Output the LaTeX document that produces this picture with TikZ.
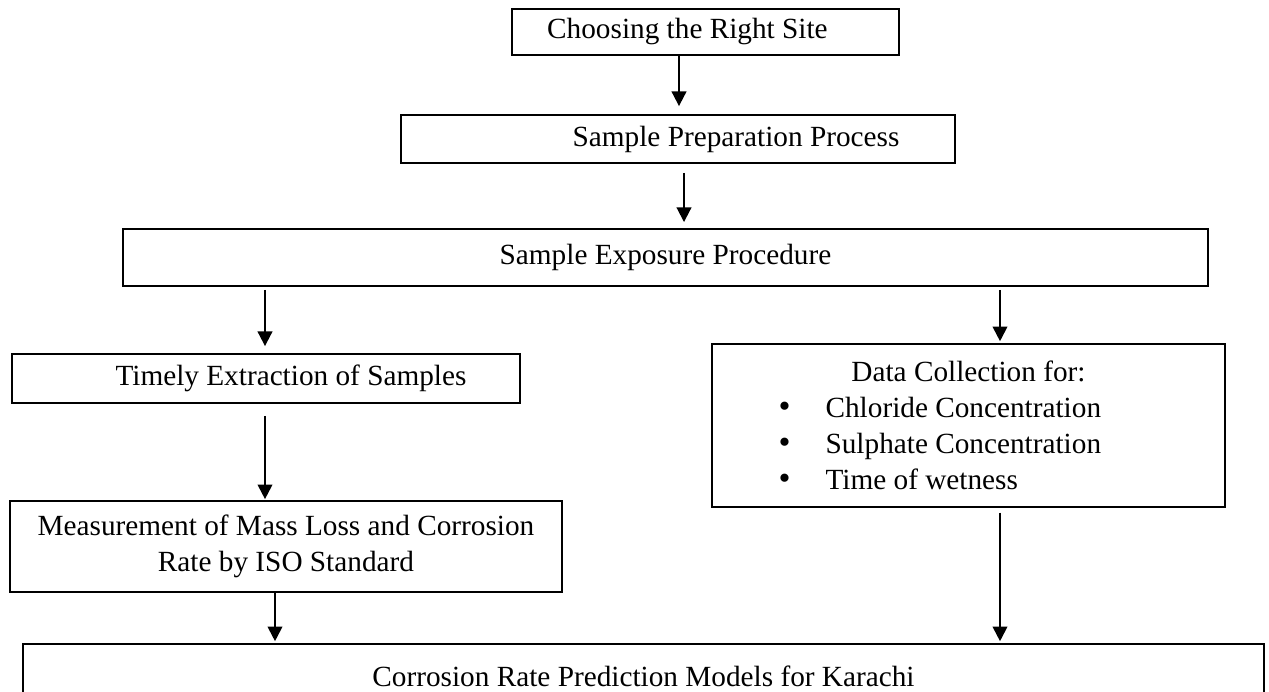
\documentclass[tikz,border=0pt]{standalone}
\usepackage{fontspec}
\setmainfont{Liberation Serif}
\usetikzlibrary{arrows.meta}

\newcommand{\pxu}{0.41pt}
\newcommand{\bulletline}[1]{\makebox[155.8pt][l]{\makebox[19.3pt][l]{\fontsize{14}{14}\selectfont\textbullet}#1}}

\tikzset{
    stepbox/.style={draw, line width=0.7pt, inner sep=0pt, align=center,
        font=\fontsize{12}{14.7}\selectfont},
}

\begin{document}
\begin{tikzpicture}[x=0.41pt, y=-0.41pt, >={Triangle[length=6pt, width=6pt]}, line width=0.8pt]
    \useasboundingbox (0,0) rectangle (1269,692);
    \clip (0,0) rectangle (1269,692);

    % Boxes
    \node[stepbox, minimum width=387*\pxu, minimum height=46*\pxu] (site) at (705.5,32)
        {Choosing the Right Site\hspace*{14.8pt}};
    \node[stepbox, minimum width=554*\pxu, minimum height=48*\pxu] (prep) at (678,139)
        {\hspace*{47.6pt}Sample Preparation Process};
    \node[stepbox, minimum width=1085*\pxu, minimum height=57*\pxu] (expo) at (665.5,257.5)
        {Sample Exposure Procedure};
    \node[stepbox, minimum width=508*\pxu, minimum height=49*\pxu] (extract) at (266,378.5)
        {\hspace*{20.5pt}Timely Extraction of Samples};
    \node[stepbox, minimum width=513*\pxu, minimum height=163*\pxu] (data) at (968.5,425.5)
        {Data Collection for:\\
         \bulletline{Chloride Concentration}\\
         \bulletline{Sulphate Concentration}\\
         \bulletline{Time of wetness}};
    \node[stepbox, minimum width=552*\pxu, minimum height=91*\pxu] (mass) at (286,546.5)
        {Measurement of Mass Loss and Corrosion\\ Rate by ISO Standard};
    \node[stepbox, minimum width=1241*\pxu, minimum height=64*\pxu] (model) at (643.5,676)
        {Corrosion Rate Prediction Models for Karachi};

    % Arrow columns
    \coordinate (ax1) at (679,0);
    \coordinate (ax2) at (684,0);
    \coordinate (ax3) at (265,0);
    \coordinate (ax4) at (1000,0);
    \coordinate (ax5) at (275,0);

    % Arrows
    \draw[->, shorten >=3.3pt] (site.south -| ax1) -- (prep.north -| ax1);
    \draw[->, shorten <=3.7pt, shorten >=2.5pt] (prep.south -| ax2) -- (expo.north -| ax2);
    \draw[->, shorten <=1.2pt, shorten >=2.9pt] (expo.south -| ax3) -- (extract.north -| ax3);
    \draw[->, shorten <=1.2pt, shorten >=0.8pt] (expo.south -| ax4) -- (data.north -| ax4);
    \draw[->, shorten <=4.9pt, shorten >=0.4pt] (extract.south -| ax3) -- (mass.north -| ax3);
    \draw[->, shorten >=0.8pt] (mass.south -| ax5) -- (model.north -| ax5);
    \draw[->, shorten <=2pt, shorten >=0.8pt] (data.south -| ax4) -- (model.north -| ax4);
\end{tikzpicture}
\end{document}
